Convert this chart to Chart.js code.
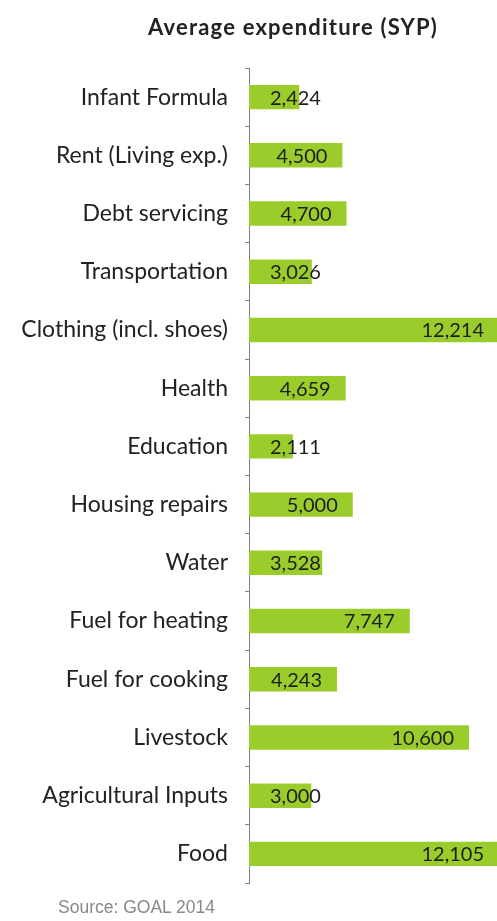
<!DOCTYPE html>
<html>
<head>
<meta charset="utf-8">
<script src="https://cdn.jsdelivr.net/npm/chart.js@4"></script>
<style>
    html, body { margin: 0; padding: 0; background: #fff; }
    #wrap { position: relative; width: 497px; height: 921px; }
    #title {
        position: absolute; left: 93px; width: 400px; top: 13px;
        text-align: center; font: bold 22px Lato, sans-serif; color: #222;
        letter-spacing: 1.2px;
    }
    #source {
        position: absolute; left: 58px; top: 897px;
        font: 17.5px "Liberation Sans", Arial, sans-serif; color: #888;
    }
</style>
</head>
<body>
<div id="wrap">
    <canvas id="chart" width="497" height="921"></canvas>
    <div id="title">Average expenditure (SYP)</div>
    <div id="source">Source: GOAL 2014</div>
</div>
<script>
// Categories and values
const categories = [
    'Infant Formula', 'Rent (Living exp.)', 'Debt servicing', 'Transportation',
    'Clothing (incl. shoes)', 'Health', 'Education', 'Housing repairs', 'Water',
    'Fuel for heating', 'Fuel for cooking', 'Livestock', 'Agricultural Inputs', 'Food'
];
const expenditure = [2424, 4500, 4700, 3026, 12214, 4659, 2111, 5000, 3528, 7747, 4243, 10600, 3000, 12105];

// Draw value labels near the end of each bar
const valueLabels = {
    id: 'valueLabels',
    afterDatasetsDraw(chart) {
        const ctx = chart.ctx;
        const meta = chart.getDatasetMeta(0);
        const area = chart.chartArea;
        ctx.save();
        ctx.font = '20px Lato, sans-serif';
        ctx.fillStyle = '#1e1e1e';
        ctx.textBaseline = 'middle';
        ctx.textAlign = 'left';
        meta.data.forEach((bar, i) => {
            const text = expenditure[i].toLocaleString('en-US');
            const w = ctx.measureText(text).width;
            let right = Math.min(bar.x - 15, area.right - 13);
            let left = right - w;
            if (left < area.left + 21) left = area.left + 21;
            ctx.fillText(text, left, bar.y + 1);
        });
        ctx.restore();
    }
};

const ctx = document.getElementById('chart').getContext('2d');
const chart = new Chart(ctx, {
    type: 'bar',
    data: {
        labels: categories,
        datasets: [{
            data: expenditure,
            backgroundColor: '#9acd2c',
            barPercentage: 0.42,
            categoryPercentage: 1
        }]
    },
    options: {
        indexAxis: 'y',
        responsive: false,
        animation: false,
        layout: { padding: { top: 68, bottom: 38, left: 0, right: 0 } },
        plugins: {
            legend: { display: false },
            tooltip: { enabled: false }
        },
        scales: {
            x: { display: false, min: 0, max: 11950 },
            y: {
                afterFit(scale) { scale.width = 249; },
                border: { display: true, color: '#808080', width: 1 },
                grid: { drawOnChartArea: false, tickLength: 4, color: '#808080' },
                ticks: {
                    padding: 17,
                    color: '#222',
                    font: { family: 'Lato', size: 23 }
                }
            }
        }
    },
    plugins: [valueLabels]
});
</script>
</body>
</html>
